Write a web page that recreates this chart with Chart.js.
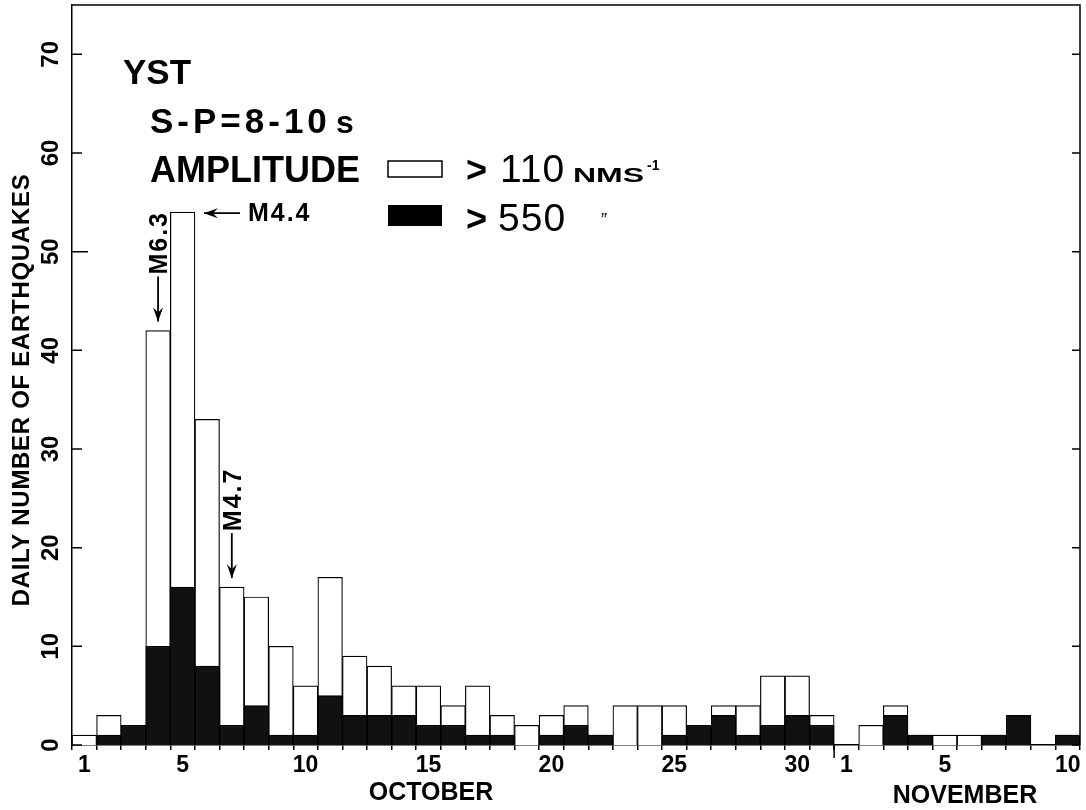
<!DOCTYPE html>
<html>
<head>
<meta charset="utf-8">
<script src="https://cdn.jsdelivr.net/npm/chart.js@4"></script>
<style>
  body { margin: 0; background: #fff; }
  canvas { display: block; }
</style>
</head>
<body>
<canvas id="chart" width="1086" height="810"></canvas>
<script>
// day labels: October 1-31, then November 1-10
var days = ["1","2","3","4","5","6","7","8","9","10","11","12","13","14","15","16","17","18","19","20",
            "21","22","23","24","25","26","27","28","29","30","31",
            "1","2","3","4","5","6","7","8","9","10"];
// daily counts with amplitude > 110 nm/s (open bars, whole height)
var over110 = [1,3,2,42,54,33,16,15,10,6,17,9,8,6,6,4,6,3,2,3,4,1,4,4,4,2,4,4,7,7,3,
               0,2,4,1,1,1,1,3,0,1];
// daily counts with amplitude > 550 nm/s (filled part)
var over550 = [0,1,2,10,16,8,2,4,1,1,5,3,3,3,2,2,1,1,0,1,2,1,0,0,1,2,3,1,2,3,2,
               0,0,3,1,0,0,1,3,0,1];
var shownTicks = [0,4,9,14,19,24,29,31,35,40];
var yTicks = [0,10,20,30,40,50,60,70];
// quakes marked on the plot: [day index, label]
var quakes = [[3,"M6.3"],[4,"M4.4"],[6,"M4.7"]];

var FONT = '"Liberation Sans", Arial, sans-serif';
Chart.defaults.font.family = FONT;
Chart.defaults.color = "#000";

function arrow(ctx, x1, y1, x2, y2) {
  // line from (x1,y1) with head at (x2,y2)
  var a = Math.atan2(y2 - y1, x2 - x1);
  ctx.beginPath();
  ctx.moveTo(x1, y1);
  ctx.lineTo(x2, y2);
  ctx.stroke();
  ctx.beginPath();
  ctx.moveTo(x2, y2);
  ctx.lineTo(x2 - 14 * Math.cos(a) + 5 * Math.sin(a), y2 - 14 * Math.sin(a) - 5 * Math.cos(a));
  ctx.lineTo(x2 - 9 * Math.cos(a), y2 - 9 * Math.sin(a));
  ctx.lineTo(x2 - 14 * Math.cos(a) - 5 * Math.sin(a), y2 - 14 * Math.sin(a) + 5 * Math.cos(a));
  ctx.closePath();
  ctx.fill();
}

const decor = {
  id: "decor",
  afterDraw(chart) {
    const ctx = chart.ctx;
    const a = chart.chartArea;
    const x = chart.scales.x, y = chart.scales.y;
    ctx.save();
    ctx.strokeStyle = "#000";
    ctx.fillStyle = "#000";
    ctx.lineWidth = 1.5;

    // frame top and right
    ctx.beginPath();
    ctx.moveTo(a.left, a.top);
    ctx.lineTo(a.right, a.top);
    ctx.lineTo(a.right, a.bottom);
    ctx.stroke();

    // y ticks inward on both sides, rotated labels on the left
    ctx.font = "bold 24px " + FONT;
    ctx.textAlign = "center";
    ctx.textBaseline = "middle";
    yTicks.forEach(v => {
      const py = y.getPixelForValue(v);
      ctx.beginPath();
      ctx.moveTo(a.left, py);
      ctx.lineTo(a.left + (v === 50 ? 16 : 10), py);
      ctx.moveTo(a.right, py);
      ctx.lineTo(a.right - 8, py);
      ctx.stroke();
      ctx.save();
      ctx.translate(51, py);
      ctx.rotate(-Math.PI / 2);
      ctx.fillText(String(v), 0, 0);
      ctx.restore();
    });

    // y title
    ctx.save();
    ctx.translate(22, 390);
    ctx.rotate(-Math.PI / 2);
    ctx.letterSpacing = "0.7px";
    ctx.font = "bold 24px " + FONT;
    ctx.fillText("DAILY NUMBER OF EARTHQUAKES", 0, 0);
    ctx.restore();

    // month break tick
    const xb = (x.getPixelForValue(30) + x.getPixelForValue(31)) / 2;
    ctx.beginPath();
    ctx.moveTo(xb, a.bottom);
    ctx.lineTo(xb, a.bottom + 13);
    ctx.stroke();

    // month names
    ctx.font = "bold 25px " + FONT;
    ctx.textBaseline = "alphabetic";
    ctx.fillText("OCTOBER", 431, 800);
    ctx.fillText("NOVEMBER", 965, 803);

    // heading and legend
    ctx.textAlign = "left";
    ctx.font = "bold 35px " + FONT;
    ctx.fillText("YST", 123, 84);
    ctx.save();
    ctx.letterSpacing = "4px";
    ctx.font = "bold 35px " + FONT;
    ctx.fillText("S-P=8-10", 150, 133);
    ctx.restore();
    ctx.font = "bold 32px " + FONT;
    ctx.fillText("s", 336, 133);
    ctx.font = "bold 36px " + FONT;
    ctx.fillText("AMPLITUDE", 150, 182);

    ctx.strokeRect(388, 161, 54, 16);
    ctx.fillRect(388, 205, 54, 21);

    ctx.font = "bold 36px " + FONT;
    ctx.fillText(">", 466, 182);
    ctx.fillText(">", 466, 231);
    ctx.save();
    ctx.letterSpacing = "1px";
    ctx.font = "39px " + FONT;
    ctx.fillText("110", 500, 182);
    ctx.fillText("550", 498, 231);
    ctx.restore();
    // stretched small caps unit
    ctx.save();
    ctx.translate(573, 182);
    ctx.scale(1.6, 1);
    ctx.font = "bold 20px " + FONT;
    ctx.fillText("NMS", 0, 0);
    ctx.restore();
    ctx.font = "bold 14px " + FONT;
    ctx.fillText("-1", 647, 170);
    ctx.font = "italic 18px " + FONT;
    ctx.fillText("\u201D", 600, 226);

    // quake markers
    ctx.font = "bold 25px " + FONT;
    ctx.lineWidth = 1.8;
    quakes.forEach(q => {
      const i = q[0];
      const top = y.getPixelForValue(over110[i]);
      const cx = x.getPixelForValue(i);
      ctx.save();
      ctx.letterSpacing = "2px";
      if (q[1] === "M4.4") {
        const right = cx + 12.3;
        arrow(ctx, right + 45, top + 1, right + 9, top + 1);
        ctx.textBaseline = "middle";
        ctx.fillText(q[1], right + 53, top + 2);
      } else {
        arrow(ctx, cx, top - 54, cx, top - 9);
        ctx.translate(cx + 2, top - 56);
        ctx.rotate(-Math.PI / 2);
        ctx.textBaseline = "middle";
        ctx.fillText(q[1], 0, 0);
      }
      ctx.restore();
    });
    ctx.restore();
  }
};

new Chart(document.getElementById("chart"), {
  type: "bar",
  data: {
    labels: days,
    datasets: [
      {
        label: "> 550",
        data: over550,
        backgroundColor: "#111",
        borderColor: "#000",
        borderWidth: 1.2,
        grouped: false,
        order: 0
      },
      {
        label: "> 110",
        data: over110,
        backgroundColor: "#fff",
        borderColor: "#000",
        borderWidth: 1.2,
        grouped: false,
        order: 1
      }
    ]
  },
  options: {
    responsive: false,
    animation: false,
    categoryPercentage: 1,
    barPercentage: 1,
    layout: { padding: { top: 5, right: 6, left: 0, bottom: 0 } },
    plugins: { legend: { display: false }, tooltip: { enabled: false } },
    scales: {
      x: {
        grid: { display: true, drawOnChartArea: false, offset: true, tickLength: 5, color: "#000", lineWidth: 1.5 },
        border: { display: true, color: "#000", width: 1.5 },
        ticks: {
          autoSkip: false, maxRotation: 0, minRotation: 0, padding: 2,
          font: { size: 23, weight: "bold" },
          callback: (v, i) => shownTicks.includes(i) ? days[i] : ""
        },
        afterFit: s => { s.height = 65; }
      },
      y: {
        min: 0,
        max: 75,
        grid: { display: false },
        border: { display: true, color: "#000", width: 1.5 },
        ticks: { display: false },
        afterFit: s => { s.width = 72; }
      }
    }
  },
  plugins: [decor]
});
</script>
</body>
</html>
